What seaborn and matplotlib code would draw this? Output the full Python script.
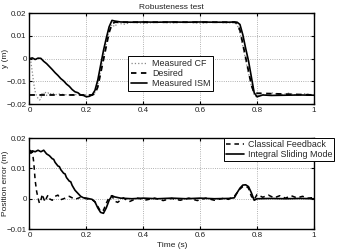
import matplotlib
matplotlib.use("Agg")
import matplotlib.pyplot as plt
import seaborn as sns
import numpy as np

# ---------------- data ----------------
t_des = [0.0, 0.22, 0.23, 0.24, 0.25, 0.26, 0.27, 0.28, 0.29, 0.30,
         0.72, 0.73, 0.74, 0.75, 0.76, 0.77, 0.78, 0.79, 1.0]
y_des = [-0.016, -0.016, -0.0155, -0.0125, -0.0065, -0.0005, 0.0055, 0.0115, 0.0152, 0.016,
         0.016, 0.0155, 0.0125, 0.0065, 0.0005, -0.0055, -0.0115, -0.0152, -0.016]

t_ism = [0.0, 0.01, 0.02, 0.03, 0.04, 0.05, 0.06, 0.07, 0.08, 0.09, 0.10, 0.11,
         0.12, 0.13, 0.14, 0.15, 0.16, 0.17, 0.18, 0.19, 0.20, 0.21, 0.22, 0.23,
         0.24, 0.25, 0.26, 0.27, 0.28, 0.29, 0.30, 0.32, 0.36, 0.40, 0.45, 0.50,
         0.55, 0.60, 0.65, 0.70, 0.72, 0.73, 0.74, 0.75, 0.76, 0.77, 0.78, 0.79,
         0.80, 0.82, 0.85, 0.90, 0.95, 1.0]
y_ism = [0.0, 0.0003, -0.0004, 0.0002, 0.0001, -0.0012, -0.0022, -0.0035, -0.0048, -0.0062, -0.0074, -0.0088,
         -0.0098, -0.0112, -0.0122, -0.0136, -0.0146, -0.0150, -0.0160, -0.0162, -0.0168, -0.0166, -0.0160, -0.0140,
         -0.0095, -0.0030, 0.0035, 0.0090, 0.0140, 0.0168, 0.0165, 0.0161, 0.0160, 0.0161, 0.0160, 0.0161,
         0.0160, 0.0161, 0.0160, 0.0160, 0.0161, 0.0160, 0.0150, 0.0105, 0.0045, -0.0010, -0.0080, -0.0150,
         -0.0168, -0.0160, -0.0162, -0.0161, -0.0160, -0.0161]

t_cf = [0.0, 0.005, 0.01, 0.015, 0.02, 0.025, 0.03, 0.035, 0.04, 0.045, 0.05, 0.055,
        0.06, 0.065, 0.07, 0.08, 0.09, 0.10, 0.12, 0.14, 0.16, 0.18, 0.20, 0.22,
        0.23, 0.24, 0.25, 0.26, 0.27, 0.28, 0.29, 0.30, 0.31, 0.33, 0.36, 0.40,
        0.45, 0.50, 0.55, 0.60, 0.65, 0.70, 0.72, 0.73, 0.74, 0.75, 0.76, 0.77,
        0.78, 0.79, 0.80, 0.81, 0.83, 0.85, 0.88, 0.91, 0.94, 0.97, 1.0]
y_cf = [0.0, -0.0015, -0.006, -0.011, -0.0145, -0.0165, -0.0175, -0.0182, -0.0178, -0.0150, -0.0155, -0.0145,
        -0.0162, -0.0150, -0.0158, -0.0150, -0.0160, -0.0155, -0.0158, -0.0160, -0.0158, -0.0160, -0.0159, -0.0160,
        -0.0150, -0.0115, -0.0055, 0.0005, 0.0065, 0.0120, 0.0150, 0.0140, 0.0158, 0.0150, 0.0160, 0.0155,
        0.0160, 0.0157, 0.0160, 0.0156, 0.0160, 0.0157, 0.0158, 0.0150, 0.0115, 0.0055, -0.0005, -0.0065,
        -0.0120, -0.0160, -0.0170, -0.0152, -0.0162, -0.0150, -0.0160, -0.0152, -0.0161, -0.0154, -0.0160]

t_ecf = [0.0, 0.01, 0.015, 0.02, 0.025, 0.03, 0.035, 0.04, 0.045, 0.05, 0.055, 0.06,
         0.065, 0.07, 0.08, 0.09, 0.10, 0.11, 0.12, 0.14, 0.16, 0.18, 0.20, 0.22,
         0.23, 0.24, 0.25, 0.26, 0.27, 0.28, 0.29, 0.30, 0.31, 0.33, 0.35, 0.38,
         0.41, 0.44, 0.47, 0.50, 0.53, 0.56, 0.59, 0.62, 0.65, 0.68, 0.70, 0.72,
         0.73, 0.74, 0.75, 0.76, 0.77, 0.78, 0.79, 0.80, 0.82, 0.84, 0.86, 0.88,
         0.90, 0.92, 0.94, 0.96, 0.98, 1.0]
y_ecf = [0.016, 0.0155, 0.012, 0.006, 0.0025, 0.0002, -0.0015, -0.0005, 0.0015, 0.0, -0.001, 0.0003,
         0.0012, 0.0, -0.0005, 0.0008, 0.0012, -0.0003, 0.0, 0.0008, -0.0002, 0.0005, 0.0, -0.0003,
         -0.0010, -0.0025, -0.0042, -0.0038, -0.0015, 0.0005, 0.0010, -0.0008, -0.0012, 0.0003, -0.0010, 0.0002,
         -0.0004, 0.0002, -0.0006, 0.0001, -0.0005, 0.0002, -0.0006, 0.0002, -0.0005, 0.0001, -0.0002, 0.0008,
         0.0020, 0.0032, 0.0040, 0.0042, 0.0035, 0.0008, -0.0003, 0.0014, 0.0005, 0.0012, 0.0003, 0.0010,
         0.0002, 0.0010, 0.0003, 0.0008, 0.0002, 0.0004]

t_eism = [0.0, 0.005, 0.01, 0.02, 0.03, 0.04, 0.05, 0.06, 0.07, 0.08, 0.085, 0.09, 0.10,
          0.105, 0.11, 0.12, 0.125, 0.13, 0.14, 0.145, 0.15, 0.16, 0.17, 0.18, 0.19, 0.20, 0.21, 0.22,
          0.23, 0.24, 0.25, 0.26, 0.27, 0.28, 0.29, 0.30, 0.32, 0.36, 0.40, 0.45,
          0.50, 0.55, 0.60, 0.65, 0.70, 0.72, 0.73, 0.74, 0.75, 0.76, 0.77, 0.78,
          0.79, 0.80, 0.85, 0.90, 0.95, 1.0]
y_eism = [0.0160, 0.0150, 0.0158, 0.0155, 0.0160, 0.0155, 0.0160, 0.0148, 0.0142, 0.0132, 0.0130, 0.0120, 0.0108,
          0.0106, 0.0096, 0.0084, 0.0082, 0.0070, 0.0058, 0.0056, 0.0044, 0.0028, 0.0018, 0.0008, 0.0003, 0.0002, 0.0000, -0.0002,
          -0.0010, -0.0030, -0.0045, -0.0048, -0.0030, -0.0005, 0.0010, 0.0006, 0.0002, 0.0000, 0.0002, 0.0000,
          0.0002, 0.0000, 0.0002, 0.0000, 0.0001, 0.0003, 0.0020, 0.0035, 0.0045, 0.0046, 0.0040, 0.0020,
          -0.0005, 0.0000, 0.0001, 0.0000, 0.0001, 0.0000]

# ---------------- style ----------------
sns.set_style("whitegrid", {"grid.linestyle": ":", "grid.color": "#999999",
                            "axes.edgecolor": "black"})
plt.rcParams['font.family'] = ['Liberation Sans', 'DejaVu Sans']
plt.rcParams['axes.unicode_minus'] = True
FS = 6.0
TFS = 5.8
LFS = 6.4

fig = plt.figure(figsize=(3.39, 2.52), dpi=100)
ax1 = fig.add_axes([0.087, 0.587, 0.839, 0.361])
ax2 = fig.add_axes([0.087, 0.091, 0.839, 0.361])

sns.lineplot(x=t_cf, y=y_cf, ax=ax1, color="#888888", linestyle=":", linewidth=0.9,
             sort=False, estimator=None, label="Measured CF")
sns.lineplot(x=t_des, y=y_des, ax=ax1, color="black", linewidth=1.3,
             sort=False, estimator=None, label="Desired")
ax1.lines[-1].set_linestyle((0, (3, 2.5)))
sns.lineplot(x=t_ism, y=y_ism, ax=ax1, color="black", linestyle="-", linewidth=1.2,
             sort=False, estimator=None, label="Measured ISM")

sns.lineplot(x=t_ecf, y=y_ecf, ax=ax2, color="black", linewidth=1.1,
             sort=False, estimator=None, label="Classical Feedback")
ax2.lines[-1].set_linestyle((0, (3, 2.5)))
sns.lineplot(x=t_eism, y=y_eism, ax=ax2, color="black", linestyle="-", linewidth=1.2,
             sort=False, estimator=None, label="Integral Sliding Mode")

for ax in (ax1, ax2):
    ax.set_xlim(0, 1)
    ax.set_xticks([0, 0.2, 0.4, 0.6, 0.8, 1.0])
    ax.set_xticklabels(["0", "0.2", "0.4", "0.6", "0.8", "1"])
    ax.tick_params(direction="in", length=2.5, labelsize=TFS, pad=2,
                   bottom=True, left=True, top=True, right=True, colors="black")
    ax.tick_params(labelcolor="#222222")
    for s in ax.spines.values():
        s.set_linewidth(1.0)
        s.set_color("black")
    ax.grid(True, linestyle=":", color="#999999", linewidth=0.6)
    ax.yaxis.set_label_coords(-0.072, 0.5)

ax1.set_ylim(-0.02, 0.02)
ax1.set_yticks([-0.02, -0.01, 0, 0.01, 0.02])
ax1.set_yticklabels(["\u22120.02", "\u22120.01", "0", "0.01", "0.02"])
ax1.set_ylabel("y (m)", fontsize=FS, color="#222222")
ax1.set_xlabel("")
ax1.set_title("Robusteness test", fontsize=FS, pad=3, color="#222222")

ax2.set_ylim(-0.01, 0.02)
ax2.set_yticks([-0.01, 0, 0.01, 0.02])
ax2.set_yticklabels(["\u22120.01", "0", "0.01", "0.02"])
ax2.set_ylabel("Position error (m)", fontsize=FS, color="#222222")
ax2.set_xlabel("Time (s)", fontsize=FS, labelpad=2.5, color="#222222")

leg1 = ax1.legend(loc="lower left", bbox_to_anchor=(0.347, 0.143), fontsize=LFS,
                  frameon=True, fancybox=False, edgecolor="black", framealpha=1,
                  handlelength=1.8, borderpad=0.3, labelspacing=0.15, handletextpad=0.6,
                  borderaxespad=0)
leg1.get_frame().set_linewidth(0.7)
leg2 = ax2.legend(loc="upper right", bbox_to_anchor=(1.072, 1.0), fontsize=LFS,
                  frameon=True, fancybox=False, edgecolor="black", framealpha=1,
                  handlelength=2.0, borderpad=0.2, labelspacing=0.1, handletextpad=0.5,
                  borderaxespad=0)
leg2.get_frame().set_linewidth(0.7)

fig.savefig("out.png", dpi=100, facecolor="white")
